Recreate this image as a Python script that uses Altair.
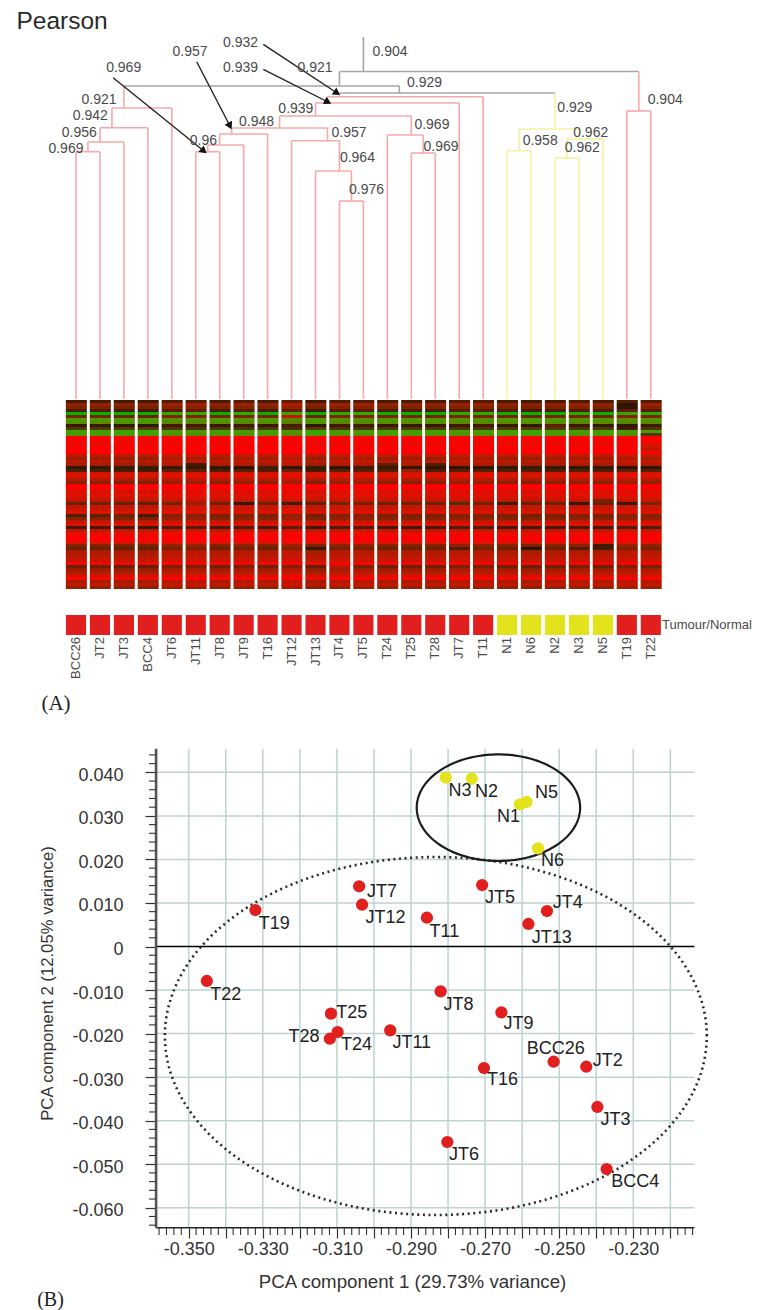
import math
import altair as alt
import pandas as pd

FONT = "Liberation Sans"
SAMPLES = ["BCC26","JT2","JT3","BCC4","JT6","JT11","JT8","JT9","T16","JT12","JT13","JT4","JT5",
           "T24","T25","T28","JT7","T11","N1","N6","N2","N3","N5","T19","T22"]
TISSUE = ["Tumour"]*18 + ["Normal"]*5 + ["Tumour"]*2

# dendrogram merges: name, left child, right child, merge height, branch colour group
MERGES = [
    ("a1",0,1,247.3,"t"),("a2","a1",2,257,"t"),("a3","a2",3,271.3,"t"),("a","a3",4,291,"t"),
    ("g1",5,6,247.3,"t"),("g2","g1",7,254,"t"),("g3","g2",8,265,"t"),
    ("m",11,12,198,"t"),("l",10,"m",228,"t"),("k",9,"l",258.3,"t"),("g","g3","k",271,"t"),
    ("h1",14,15,246,"t"),("h",13,"h1",264,"t"),("f","g","h",283,"t"),("e","f",16,296,"t"),("d","e",17,302.3,"t"),
    ("n1",18,19,248.3,"n"),("n3",20,21,241,"n"),("n2","n3",22,260.3,"n"),("n","n1","n2",270,"n"),
    ("c","d","n",306,"r"),("A","a","c",313,"r"),("t",23,24,288,"t"),("root","A","t",327.5,"r"),
]
ROOT_TOP = 362

TREE_TEXT = ["0.932","0.939","0.957","0.969","0.921","0.921","0.942","0.956","0.969","0.96","0.948","0.939",
             "0.957","0.964","0.976","0.904","0.929","0.929","0.904","0.969","0.969","0.958","0.962","0.962"]
TREE_TEXT_X = [6.87,6.87,4.76,1.99,9.98,0.96,0.60,0.14,-0.42,5.32,7.54,9.18,
               11.40,11.75,12.13,13.11,14.55,20.83,24.60,14.86,15.24,19.38,21.49,21.14]
TREE_TEXT_H = [356.3,331.3,347.3,331.3,331.3,298.7,282.7,266.3,250.3,258,277,290.3,
               266.3,241.3,209,347.3,315.7,290.7,299,274,252.3,258,266.3,250.7]

ARROW_X1 = [7.82,7.82,5.04,1.55]
ARROW_X2 = [10.90,10.52,6.43,5.34]
ARROW_H1 = [354.7,329.7,337.3,321.3]
ARROW_H2 = [306,297,273,248]
ARROW_ANGLE = [123.5,116.8,152.6,128.9]

# heat map: row profile (-1 green, 0 black, 1 red), sample shift, and single cells that differ
ROW_LEVEL = [.12,.4,.3,.15,-1,.3,-.85,-.8,.05,-.3,-.9,-.85,1,1,.82,1,1,1,.6,.4,.55,.45,-.05,.15,.7,.75,.5,.35,1,1,.65,
             .85,.7,.55,.25,.6,.65,.75,.3,.35,.55,.8,.1,.6,.8,1,1,.75,.35,.25,.45,.5,.55,.6,.95,.25,.4,.5,.65,.95,.45,.55,.4]
SAMPLE_SHIFT = [0,0,-.02,-.03,.04,.05,0,.03,0,.08,-.03,.03,.04,0,0,0,.03,.03,0,-.02,0,.02,0,.05,.03]
CELL_SAMPLE = [4,5,5,8,9,12,13,13,15,15,16,16,18,21,22,23,23,23,24,24,24,7,9,10,14,16,19,21,22,23,24,5,9,0,1,3,11,20,22,23]
CELL_ROW    = [22,21,22,22,5,22,22,21,22,21,34,22,34,34,48,1,2,8,15,16,11,34,34,49,23,49,49,49,49,34,34,34,58,38,38,38,55,8,33,9]
CELL_VALUE  = [.05,.1,.05,.12,.6,.1,.08,.2,.02,.15,-.25,.02,-.1,-.05,.1,.02,.02,-.05,.65,.55,-.3,-.05,-.1,.05,.4,.15,0,.15,.1,.05,.3,.4,.8,.15,.2,.12,.5,.2,.3,.1]
STRIP_TEXT = "Tumour/Normal"

# PCA scores
PCA_NAME = ["N3","N2","N5","N1","N6","JT5","JT4","JT13","T11","JT8","JT9","JT7","JT12","T19","T22",
            "T25","T28","T24","JT11","T16","BCC26","JT2","JT3","JT6","BCC4"]
PC1 = [-.2806,-.2736,-.2588,-.2606,-.2557,-.2708,-.2533,-.2583,-.2857,-.2820,-.2656,-.3040,-.3032,-.3320,-.3451,
       -.3116,-.3119,-.3098,-.2956,-.2703,-.2515,-.2427,-.2397,-.2802,-.2372]
PC2 = [.03877,.03854,.03319,.03266,.02255,.01412,.00815,.00517,.00661,-.01029,-.01511,.01383,.0096,.00838,-.00792,
       -.01543,-.02118,-.01964,-.01925,-.02791,-.02646,-.02761,-.03686,-.0449,-.0511]
LABEL_X = [-.2768,-.2696,-.2534,-.2637,-.2518,-.2660,-.2477,-.2520,-.2810,-.2772,-.2610,-.2978,-.2969,-.3269,-.3400,
           -.3060,-.3189,-.3047,-.2898,-.2653,-.2509,-.2369,-.2348,-.2757,-.2295]
LABEL_Y = [.03571,.03548,.03519,.02981,.01964,.01121,.01006,.00202,.0034,-.01344,-.01787,.01252,.00661,.00524,-.01114,
           -.0152,-.02072,-.02262,-.0221,-.03073,-.02361,-.0263,-.03985,-.04789,-.05409]
NORMALS = {"N1","N2","N3","N5","N6"}

# ellipses: centre x, centre y, radius x, radius y
ELLIPSE_NORMAL = (-.2664,.03188,.02205,.01224)
ELLIPSE_TUMOUR = (-.2833,-.02056,.07314,.04111)

PC1_MAJOR = [-.35,-.34,-.33,-.32,-.31,-.30,-.29,-.28,-.27,-.26,-.25,-.24,-.23,-.22]
PC2_MAJOR = [.04,.03,.02,.01,0,-.01,-.02,-.03,-.04,-.05,-.06]
PC1_LOW, PC1_HIGH = -.3588, -.2135
PC2_LOW, PC2_HIGH = -.0646, .0454

W = 744
X_SCALE = alt.Scale(domain=[-2.839, 28.225], nice=False, zero=False)
H_SCALE = alt.Scale(domain=[0, 391], nice=False, zero=False)

# ---- dendrogram
pos, hgt, grp = {}, {}, {}
leaves = {i: [i] for i in range(25)}
for i in range(25):
    pos[i], hgt[i] = i, 0
hseg, vseg = [], []
for name, l, r, h, g in MERGES:
    leaves[name] = leaves[l] + leaves[r]
    pos[name] = sum(leaves[name]) / len(leaves[name])
    hgt[name] = h
    grp[name] = g
    grp.setdefault(l, g)
    grp.setdefault(r, g)
    hseg.append(dict(x=pos[l], x2=pos[r], h=h, g=g))
    vseg.append(dict(x=pos[l], h=hgt[l], h2=h, g=grp[l]))
    vseg.append(dict(x=pos[r], h=hgt[r], h2=h, g=grp[r]))
vseg.append(dict(x=pos["root"], h=327.5, h2=ROOT_TOP, g="r"))

BRANCH = alt.Color("g:N", legend=None,
                   scale=alt.Scale(domain=["r", "t", "n"], range=["#a6a6a6", "#f7a9a9", "#f3f3a2"]))
hl = alt.Chart(pd.DataFrame(hseg)).mark_rule(strokeWidth=1.6).encode(
    x=alt.X("x:Q", scale=X_SCALE, axis=None), x2="x2:Q",
    y=alt.Y("h:Q", scale=H_SCALE, axis=None), color=BRANCH)
vl = alt.Chart(pd.DataFrame(vseg)).mark_rule(strokeWidth=1.6).encode(
    x=alt.X("x:Q", scale=X_SCALE, axis=None),
    y=alt.Y("h:Q", scale=H_SCALE, axis=None), y2="h2:Q", color=BRANCH)
tree_txt = alt.Chart(pd.DataFrame(dict(t=TREE_TEXT, x=TREE_TEXT_X, h=TREE_TEXT_H))).mark_text(
    font=FONT, fontSize=14, color="#4a4a4a").encode(
    x=alt.X("x:Q", scale=X_SCALE, axis=None), y=alt.Y("h:Q", scale=H_SCALE, axis=None), text="t:N")
arrows = pd.DataFrame(dict(x=ARROW_X1, x2=ARROW_X2, h=ARROW_H1, h2=ARROW_H2, a=ARROW_ANGLE))
arrow_line = alt.Chart(arrows).mark_rule(strokeWidth=1.4, color="#222222").encode(
    x=alt.X("x:Q", scale=X_SCALE, axis=None), x2="x2:Q",
    y=alt.Y("h:Q", scale=H_SCALE, axis=None), y2="h2:Q")
arrow_head = alt.Chart(arrows).mark_point(shape="triangle-up", filled=True, size=70, color="#111111", opacity=1).encode(
    x=alt.X("x2:Q", scale=X_SCALE, axis=None), y=alt.Y("h2:Q", scale=H_SCALE, axis=None),
    angle=alt.Angle("a:Q", scale=None))
pearson = alt.Chart(pd.DataFrame(dict(t=["Pearson"], x=[-0.58], h=[377.5]))).mark_text(
    font=FONT, fontSize=24.5, color="#2a2a2a").encode(
    x=alt.X("x:Q", scale=X_SCALE, axis=None), y=alt.Y("h:Q", scale=H_SCALE, axis=None), text="t:N")
tree = alt.layer(hl, vl, arrow_line, arrow_head, tree_txt, pearson).properties(width=W, height=391)

# ---- heat map
cells = {(c, r): v for c, r, v in zip(CELL_SAMPLE, CELL_ROW, CELL_VALUE)}
rows = []
for c in range(25):
    for r, level in enumerate(ROW_LEVEL):
        v = cells.get((c, r), min(1, level + SAMPLE_SHIFT[c]))
        rows.append(dict(x=c - .44 + .015, x2=c + .44 + .015, r=r, r2=r + 1, v=v))
heat = alt.Chart(pd.DataFrame(rows)).mark_rect(stroke=None).encode(
    x=alt.X("x:Q", scale=X_SCALE, axis=None), x2="x2:Q",
    y=alt.Y("r:Q", scale=alt.Scale(domain=[0, len(ROW_LEVEL)], reverse=True, nice=False, zero=False), axis=None), y2="r2:Q",
    color=alt.Color("v:Q", legend=None,
                    scale=alt.Scale(domain=[-1, 0, .5, 1], range=["#00b400", "#2a1400", "#b81800", "#ff0000"], clamp=True)),
).properties(width=W, height=189)

# ---- annotation strip
strip_df = pd.DataFrame(dict(s=SAMPLES, i=range(25), x=[i - .42 for i in range(25)],
                             x2=[i + .42 for i in range(25)], k=TISSUE))
strip_rect = alt.Chart(strip_df).mark_rect().encode(
    x=alt.X("x:Q", scale=X_SCALE, axis=None), x2="x2:Q", y=alt.value(26), y2=alt.value(46),
    color=alt.Color("k:N", legend=None,
                    scale=alt.Scale(domain=["Tumour", "Normal"], range=["#e11f1f", "#e2e21d"])))
strip_lab = alt.Chart(strip_df).mark_text(font=FONT, fontSize=13, color="#4a4a4a", angle=270, align="right").encode(
    x=alt.X("i:Q", scale=X_SCALE, axis=None), y=alt.value(48), text="s:N")
strip_name = alt.Chart(pd.DataFrame(dict(t=[STRIP_TEXT], x=[24.47]))).mark_text(
    font=FONT, fontSize=13, color="#4a4a4a", align="left").encode(
    x=alt.X("x:Q", scale=X_SCALE, axis=None), y=alt.value(36), text="t:N")
panel_a = alt.Chart(pd.DataFrame(dict(t=["(A)"], x=[-.835]))).mark_text(
    font="Liberation Serif", fontSize=21, color="#222222").encode(
    x=alt.X("x:Q", scale=X_SCALE, axis=None), y=alt.value(115), text="t:N")
strip = alt.layer(strip_rect, strip_lab, strip_name, panel_a).properties(width=W, height=128)

# ---- PCA
PX = alt.Scale(domain=[-.39877, -.19796], nice=False, zero=False)
PY = alt.Scale(domain=[-.06465, .05271], nice=False, zero=False)

lab_x = ("abs(round(datum.value*100))%2==1 ? "
         "replace(format(datum.value,'.3f'),'\u2212','-') : ''")
lab_y = ("abs(datum.value)<0.0001 ? '0' : replace(format(datum.value,'.3f'),'\u2212','-')")
x_axis = alt.Axis(values=PC1_MAJOR, grid=False, domain=False, tickSize=10, tickColor="#333333", tickWidth=1.2,
                  labelExpr=lab_x, labelOverlap=False, labelFont=FONT, labelFontSize=18, labelColor="#333333",
                  labelPadding=2.5, title="PCA component 1 (29.73% variance)", titleFont=FONT, titleFontSize=18.7,
                  titleFontWeight="normal", titleColor="#333333", titlePadding=14, titleX=404)
y_axis = alt.Axis(values=PC2_MAJOR, grid=False, domain=False, tickSize=11, tickColor="#333333", tickWidth=1.2,
                  offset=-148, labelExpr=lab_y, labelOverlap=False, labelFont=FONT, labelFontSize=18,
                  labelColor="#333333", labelPadding=22, labelOffset=3,
                  title="PCA component 2 (12.05% variance)", titleFont=FONT, titleFontSize=16.7,
                  titleFontWeight="normal", titleColor="#333333", titlePadding=15, titleY=266)
GRID = "#bcd3d2"
grid_x = alt.Chart(pd.DataFrame(dict(x=PC1_MAJOR, a=PC2_HIGH, b=PC2_LOW))).mark_rule(color=GRID, strokeWidth=1.5).encode(
    x=alt.X("x:Q", scale=PX, axis=x_axis), y=alt.Y("a:Q", scale=PY, axis=y_axis), y2="b:Q")
grid_y = alt.Chart(pd.DataFrame(dict(y=[v for v in PC2_MAJOR if v != 0], a=PC1_LOW, b=PC1_HIGH))).mark_rule(
    color=GRID, strokeWidth=1.5).encode(x=alt.X("a:Q", scale=PX), x2="b:Q", y=alt.Y("y:Q", scale=PY))
zero = alt.Chart(pd.DataFrame(dict(y=[0], a=PC1_LOW, b=PC1_HIGH))).mark_rule(color="#000000", strokeWidth=1.5).encode(
    x=alt.X("a:Q", scale=PX), x2="b:Q", y=alt.Y("y:Q", scale=PY))
x_line = alt.Chart(pd.DataFrame(dict(y=[PC2_LOW], a=PC1_LOW, b=PC1_HIGH))).mark_rule(color="#222222", strokeWidth=1.6).encode(
    x=alt.X("a:Q", scale=PX), x2="b:Q", y=alt.Y("y:Q", scale=PY))
y_line = alt.Chart(pd.DataFrame(dict(x=[PC1_LOW], a=PC2_LOW, b=PC2_HIGH))).mark_rule(color="#555555", strokeWidth=2.6).encode(
    x=alt.X("x:Q", scale=PX), y=alt.Y("a:Q", scale=PY), y2="b:Q")

minor_x = [-.358 + .002 * k for k in range(73) if k % 5 != 4]
minor_y = [-.064 + .002 * k for k in range(55) if k % 5 != 2]
tick_x = alt.Chart(pd.DataFrame(dict(x=minor_x))).mark_rule(color="#333333", strokeWidth=1.1).encode(
    x=alt.X("x:Q", scale=PX), y=alt.value(511), y2=alt.value(518))
tick_y = alt.Chart(pd.DataFrame(dict(y=minor_y))).mark_rule(color="#333333", strokeWidth=1.1).encode(
    y=alt.Y("y:Q", scale=PY), x=alt.value(141), x2=alt.value(148))


def ellipse(spec):
    cx, cy, rx, ry = spec
    return pd.DataFrame([dict(t=k, x=cx + rx * math.cos(k * math.pi / 90), y=cy + ry * math.sin(k * math.pi / 90))
                         for k in range(181)])


ell_n = alt.Chart(ellipse(ELLIPSE_NORMAL)).mark_line(color="#1c1c1c", strokeWidth=2.2).encode(
    x=alt.X("x:Q", scale=PX), y=alt.Y("y:Q", scale=PY), order="t:Q")
ell_t = alt.Chart(ellipse(ELLIPSE_TUMOUR)).mark_line(color="#2a2a2a", strokeWidth=2.6, strokeDash=[2, 3.6]).encode(
    x=alt.X("x:Q", scale=PX), y=alt.Y("y:Q", scale=PY), order="t:Q")

pca_df = pd.DataFrame(dict(n=PCA_NAME, x=PC1, y=PC2, lx=LABEL_X, ly=LABEL_Y,
                           k=["Normal" if n in NORMALS else "Tumour" for n in PCA_NAME]))
pts = alt.Chart(pca_df).mark_circle(size=150, opacity=1).encode(
    x=alt.X("x:Q", scale=PX), y=alt.Y("y:Q", scale=PY),
    color=alt.Color("k:N", legend=None,
                    scale=alt.Scale(domain=["Tumour", "Normal"], range=["#e11f1f", "#e2e21d"])))
pts_txt = alt.Chart(pca_df).mark_text(font=FONT, fontSize=18, color="#222222").encode(
    x=alt.X("lx:Q", scale=PX), y=alt.Y("ly:Q", scale=PY), text="n:N")
panel_b = alt.Chart(pd.DataFrame(dict(t=["(B)"], x=[-.3873]))).mark_text(
    font="Liberation Serif", fontSize=20, color="#222222").encode(
    x=alt.X("x:Q", scale=PX), y=alt.value(583), text="t:N")

pca = alt.layer(grid_x, grid_y, zero, ell_t, ell_n, x_line, y_line, tick_x, tick_y, pts, pts_txt, panel_b).properties(
    width=W, height=511)

chart = alt.vconcat(tree, heat, strip, pca, spacing=0, padding=0).configure_view(stroke=None).configure_concat(spacing=0)
chart.save("out.html", embed_options={"renderer": "svg", "actions": False})
